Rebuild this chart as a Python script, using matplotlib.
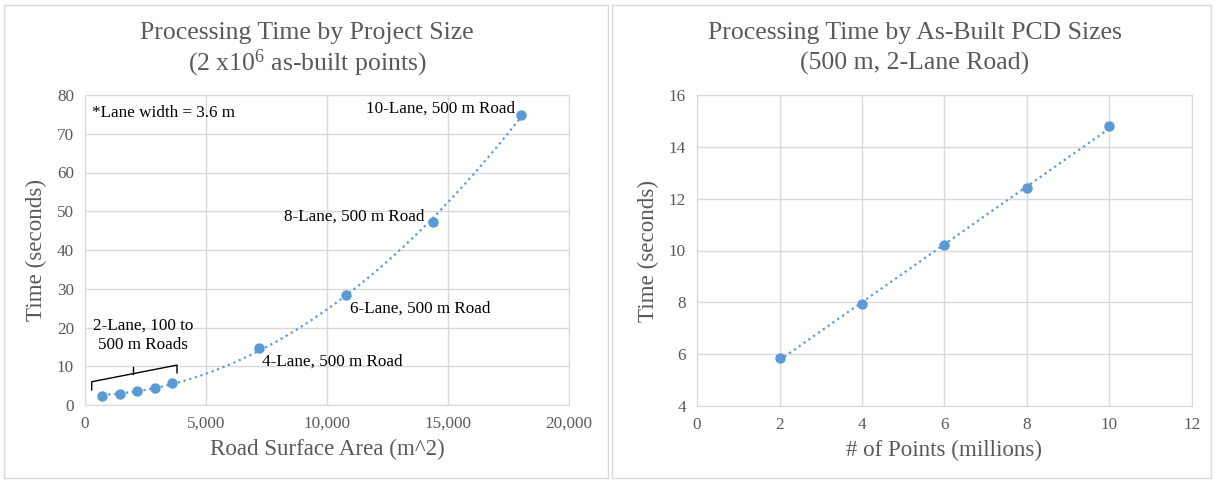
import matplotlib
matplotlib.use("Agg")
import matplotlib.pyplot as plt
from matplotlib.patches import Rectangle
import numpy as np

plt.rcParams['font.family'] = ['Liberation Serif', 'DejaVu Serif']
plt.rcParams['mathtext.fontset'] = 'custom'
plt.rcParams['mathtext.rm'] = 'Liberation Serif'
plt.rcParams['mathtext.it'] = 'Liberation Serif'

# left chart: road surface area vs time
area = [720, 1440, 2160, 2880, 3600, 7200, 10800, 14400, 18000]
area_time = [2.3, 2.8, 3.5, 4.5, 5.8, 14.6, 28.3, 47.3, 74.8]

# right chart: number of points vs time
points = [2, 4, 6, 8, 10]
points_time = [5.85, 7.95, 10.2, 12.4, 14.8]

BLUE = '#5B9BD5'
GRAY = '#595959'
GRID = '#D9D9D9'
NOTE = 12.3

fig = plt.figure(figsize=(12.15, 4.82), dpi=100)

# panel frames
for x0, w in [(4, 604), (612, 599)]:
    fig.patches.append(Rectangle((x0 / 1215, 4 / 482), w / 1215, 473 / 482,
                                 transform=fig.transFigure, fill=False,
                                 edgecolor=GRID, linewidth=1))


def style(ax):
    ax.grid(True, color=GRID, linewidth=1)
    ax.set_axisbelow(True)
    for s in ax.spines.values():
        s.set_color(GRID)
    ax.tick_params(length=0, labelsize=12.3, labelcolor=GRAY, pad=8)


# ---- left
ax1 = fig.add_axes([85 / 1215, 1 - 405 / 482, 484 / 1215, 310 / 482])
style(ax1)
coef = np.polyfit(area, area_time, 2)
xs = np.linspace(area[0], area[-1], 200)
ax1.plot(xs, np.polyval(coef, xs), ':', color=BLUE, linewidth=1.6)
ax1.plot(area, area_time, 'o', color=BLUE, markersize=6.5)
ax1.set_xlim(0, 20000)
ax1.set_ylim(0, 80)
ax1.set_xticks(range(0, 20001, 5000))
ax1.set_xticklabels(['0', '5,000', '10,000', '15,000', '20,000'])
ax1.set_yticks(range(0, 81, 10))
ax1.set_xlabel('Road Surface Area (m^2)', fontsize=16.6, color=GRAY, labelpad=5)
ax1.set_ylabel('Time (seconds)', fontsize=16.6, color=GRAY, labelpad=7)

ax1.text(290, 75.4, '*Lane width = 3.6 m', fontsize=NOTE, ha='left', va='center')
ax1.text(17770, 76.6, '10-Lane, 500 m Road', fontsize=NOTE, ha='right', va='center')
ax1.text(14008, 48.5, '8-Lane, 500 m Road', fontsize=NOTE, ha='right', va='center')
ax1.text(10950, 24.8, '6-Lane, 500 m Road', fontsize=NOTE, ha='left', va='center')
ax1.text(7314, 11.1, '4-Lane, 500 m Road', fontsize=NOTE, ha='left', va='center')
ax1.text(2397, 17.9, '2-Lane, 100 to\n500 m Roads', fontsize=NOTE, ha='center',
         va='center', linespacing=1.25)
# bracket over the 2-lane points
ax1.plot([277, 277, 3802, 3802], [3.9, 6.0, 10.3, 8.3], color='black', linewidth=1)
ax1.plot([1983, 1983], [8.08, 9.9], color='black', linewidth=1)

fig.text(307 / 1215, 1 - 33 / 482, 'Processing Time by Project Size',
         fontsize=18.5, color=GRAY, ha='center', va='center')
fig.text(307 / 1215, 1 - 63 / 482, '(2 x10$^6$ as-built points)',
         fontsize=18.5, color=GRAY, ha='center', va='center')

# ---- right
ax2 = fig.add_axes([697 / 1215, 1 - 406 / 482, 495 / 1215, 311 / 482])
style(ax2)
coef2 = np.polyfit(points, points_time, 1)
xs2 = np.array([points[0], points[-1]])
ax2.plot(xs2, np.polyval(coef2, xs2), ':', color=BLUE, linewidth=1.6)
ax2.plot(points, points_time, 'o', color=BLUE, markersize=6.5)
ax2.set_xlim(0, 12)
ax2.set_ylim(4, 16)
ax2.set_xticks(range(0, 13, 2))
ax2.set_yticks(range(4, 17, 2))
ax2.set_xlabel('# of Points (millions)', fontsize=16.6, color=GRAY, labelpad=5)
ax2.set_ylabel('Time (seconds)', fontsize=16.6, color=GRAY, labelpad=7)

fig.text(915 / 1215, 1 - 33 / 482, 'Processing Time by As-Built PCD Sizes',
         fontsize=18.5, color=GRAY, ha='center', va='center')
fig.text(915 / 1215, 1 - 63 / 482, '(500 m, 2-Lane Road)',
         fontsize=18.5, color=GRAY, ha='center', va='center')

fig.savefig('out.png', dpi=100, facecolor='white')
